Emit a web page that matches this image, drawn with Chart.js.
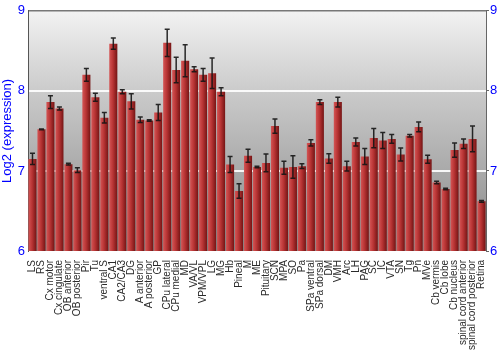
<!DOCTYPE html>
<html>
<head>
<meta charset="utf-8">
<script src="https://cdn.jsdelivr.net/npm/chart.js@4"></script>
<style>
  html, body { margin: 0; padding: 0; background: #fff; }
  #wrap { width: 500px; height: 350px; }
</style>
</head>
<body>
<div id="wrap"><canvas id="grafico"></canvas></div>
<script>
// Regiões do cérebro (eixo x)
const regioes = ["LS", "RS", "Cx motor", "Cx cingulate", "OB anterior", "OB posterior", "Pir", "Tu",
  "ventral S", "CA1", "CA2/CA3", "DG", "A anterior", "A posterior", "GP", "CPu lateral", "CPu medial",
  "MD", "VA/VL", "VPM/VPL", "LG", "MG", "Hb", "Pineal", "M", "ME", "Pituitary", "SCN", "MPA", "SO", "Pa",
  "SPa ventral", "SPa dorsal", "DM", "VMH", "Arc", "LH", "PAG", "SC", "IC", "VTA", "SN", "Tg", "Pn", "MVe",
  "Cb vermis", "Cb lobe", "Cb nucleus", "spinal cord anterior", "spinal cord posterior", "Retina"];

// Valores de expressão (log2)
const expressao = [7.15, 7.52, 7.86, 7.78, 7.085, 7.01, 8.2, 7.92,
  7.665, 8.59, 7.99, 7.87, 7.64, 7.63, 7.73, 8.6, 8.26,
  8.375, 8.27, 8.2, 8.22, 7.99, 7.08, 6.75, 7.19, 7.05, 7.1, 7.56, 7.04, 7.05, 7.06,
  7.35, 7.86, 7.155, 7.86, 7.06, 7.36, 7.18, 7.41, 7.38, 7.4, 7.205, 7.44, 7.55, 7.145,
  6.855, 6.775, 7.26, 7.34, 7.4, 6.62];

// Erro padrão (+/-)
const erro = [0.07, 0.005, 0.08, 0.02, 0.01, 0.03, 0.08, 0.05,
  0.065, 0.07, 0.025, 0.095, 0.035, 0.01, 0.1, 0.17, 0.16,
  0.2, 0.03, 0.08, 0.19, 0.05, 0.1, 0.09, 0.08, 0.01, 0.11, 0.09, 0.08, 0.14, 0.03,
  0.04, 0.03, 0.06, 0.06, 0.06, 0.05, 0.1, 0.12, 0.1, 0.055, 0.08, 0.015, 0.06, 0.05,
  0.015, 0.01, 0.09, 0.06, 0.16, 0.01];

// Ticks do eixo y
const ticksY = [6, 7, 8, 9];

const azul = "#0000ff";
const fonte = "'Liberation Sans', Arial, sans-serif";

// Fundo em degradê cinza dentro da área do gráfico
const fundoPlugin = {
  id: "fundo",
  beforeDraw(chart) {
    const { ctx, chartArea: a } = chart;
    const g = ctx.createLinearGradient(0, a.top, 0, a.bottom);
    g.addColorStop(0, "#f2f2f2");
    g.addColorStop(0.35, "#c9c9c9");
    g.addColorStop(1, "#888888");
    ctx.save();
    ctx.fillStyle = g;
    ctx.fillRect(a.left, a.top, a.right - a.left, a.bottom - a.top);
    ctx.restore();
  }
};

// Barras de erro desenhadas pela escala y
const erroPlugin = {
  id: "barrasErro",
  afterDatasetsDraw(chart) {
    const { ctx, scales } = chart;
    const meta = chart.getDatasetMeta(0);
    ctx.save();
    ctx.strokeStyle = "rgba(20,20,20,0.9)";
    ctx.lineWidth = 1.5;
    meta.data.forEach((bar, i) => {
      const x = bar.x;
      const yHi = scales.y.getPixelForValue(expressao[i] + erro[i]);
      const yLo = scales.y.getPixelForValue(expressao[i] - erro[i]);
      ctx.beginPath();
      ctx.moveTo(x, yHi); ctx.lineTo(x, yLo);
      ctx.moveTo(x - 2.5, yHi); ctx.lineTo(x + 2.5, yHi);
      ctx.moveTo(x - 2.5, yLo); ctx.lineTo(x + 2.5, yLo);
      ctx.stroke();
    });
    ctx.restore();
  }
};

// Cor da barra: degradê horizontal vermelho
function corBarra(context) {
  const chart = context.chart;
  const sx = chart.scales.x;
  if (!sx || context.dataIndex === undefined) return "#b03030";
  const cx = sx.getPixelForValue(context.dataIndex);
  const w = (sx.right - sx.left) / regioes.length * 0.9;
  if (!isFinite(cx) || !isFinite(w) || w <= 0) return "#b03030";
  const g = chart.ctx.createLinearGradient(cx - w / 2, 0, cx + w / 2, 0);
  g.addColorStop(0, "#d45555");
  g.addColorStop(0.45, "#b83434");
  g.addColorStop(1, "#741414");
  return g;
}

new Chart(document.getElementById("grafico"), {
  type: "bar",
  data: {
    labels: regioes,
    datasets: [{
      data: expressao,
      backgroundColor: corBarra,
      borderWidth: 0,
      barPercentage: 0.9,
      categoryPercentage: 1.0
    }]
  },
  options: {
    responsive: true,
    maintainAspectRatio: false,
    animation: false,
    layout: { padding: { top: 9, left: 0, right: 0, bottom: 0 } },
    plugins: {
      legend: { display: false },
      tooltip: { enabled: false }
    },
    scales: {
      x: {
        grid: { display: false },
        border: { display: false },
        ticks: {
          autoSkip: false,
          minRotation: 90,
          maxRotation: 90,
          padding: 1,
          color: "#2a2a2a",
          font: { family: fonte, size: 10 }
        },
        afterFit(s) { s.height = 99; }
      },
      y: {
        min: 6, max: 9,
        afterBuildTicks(s) { s.ticks = ticksY.map(v => ({ value: v })); },
        border: { display: true, color: "#555", width: 1 },
        grid: {
          drawTicks: false,
          color: c => c.tick.value === 9 ? "#777" : (c.tick.value === 6 ? "rgba(0,0,0,0)" : "rgba(255,255,255,0.9)"),
          lineWidth: c => c.tick.value === 9 ? 1.5 : 2
        },
        ticks: {
          color: azul,
          padding: 3,
          font: { family: fonte, size: 13 }
        },
        title: {
          display: true,
          text: "Log2 (expression)",
          color: azul,
          padding: 0,
          font: { family: fonte, size: 13 }
        },
        afterFit(s) { s.width = 28; }
      },
      y2: {
        position: "right",
        min: 6, max: 9,
        afterBuildTicks(s) { s.ticks = ticksY.map(v => ({ value: v })); },
        border: { display: true, color: "#666", width: 1 },
        grid: { drawOnChartArea: false, tickLength: 3, color: "#666" },
        ticks: {
          color: azul,
          padding: 1,
          font: { family: fonte, size: 13 }
        },
        afterFit(s) { s.width = 14; }
      }
    }
  },
  plugins: [fundoPlugin, erroPlugin]
});
</script>
</body>
</html>
